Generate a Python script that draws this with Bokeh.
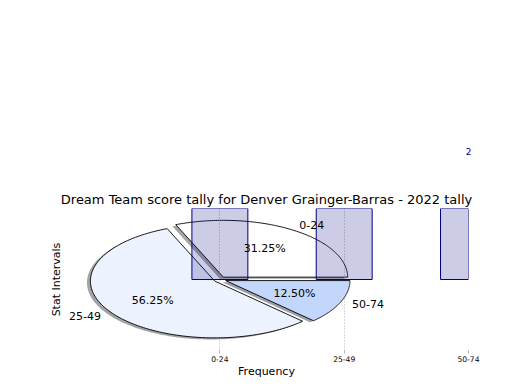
import numpy as np
from bokeh.plotting import figure
from bokeh.models import Range1d, FixedTicker, ColumnDataSource
from bokeh.core.properties import value
from bokeh.embed import file_html
from bokeh.resources import INLINE

# ---- data ----
title_text = "Dream Team score tally for Denver Grainger-Barras - 2022 tally"
categories = ["0-24", "25-49", "50-74"]
counts = [5, 9, 2]
slice_colors = ["#ffffff", "#ecf2fe", "#c3d6fc"]
explode = [0.05, 0.05, 0.05]
x_label = "Frequency"
y_label = "Stat Intervals"

FONT = "DejaVu Sans"
BORDER_TOP = 208
FRAME_H = 142
Y0, Y1 = -1.25, 1.25
LBL = "11px"

p = figure(frame_width=404, frame_height=FRAME_H,
           x_range=Range1d(-1.25, 2.0), y_range=Range1d(Y0, Y1),
           output_backend="svg", toolbar_location=None,
           min_border_left=64, min_border_right=36,
           min_border_top=BORDER_TOP, min_border_bottom=32)
p.outline_line_color = None
p.background_fill_color = "white"
p.border_fill_color = "white"

p.title.text = title_text
p.title.align = "center"
p.title.text_font = FONT
p.title.text_font_size = "13px"
p.title.text_font_style = "normal"
p.title.text_color = "black"
p.title.standoff = 4

# ---- pie geometry (from data) ----
fr = np.array(counts, dtype=float) / sum(counts)
theta = np.concatenate([[0.0], np.cumsum(fr)]) * 2 * np.pi
sh = -0.02 * 100 / 72
wx, wy, sx, sy = [], [], [], []
lab_x, lab_y, lab_align = [], [], []
pct_x, pct_y, pct_t = [], [], []
for i in range(len(counts)):
    t = np.linspace(theta[i], theta[i + 1], 120)
    mid = 0.5 * (theta[i] + theta[i + 1])
    cx, cy = explode[i] * np.cos(mid), explode[i] * np.sin(mid)
    xs = np.concatenate([[cx], cx + np.cos(t), [cx]])
    ys = np.concatenate([[cy], cy + np.sin(t), [cy]])
    wx.append(list(xs)); wy.append(list(ys))
    sx.append(list(xs + sh)); sy.append(list(ys + sh))
    lab_x.append(cx + 1.1 * np.cos(mid)); lab_y.append(cy + 1.1 * np.sin(mid))
    lab_align.append("left" if np.cos(mid) > 0 else "right")
    pct_x.append(cx + 0.6 * np.cos(mid)); pct_y.append(cy + 0.6 * np.sin(mid))
    pct_t.append("%.2f%%" % (100 * fr[i]))

shadow_cols = []
for c in slice_colors:
    r, g, b = int(c[1:3], 16), int(c[3:5], 16), int(c[5:7], 16)
    shadow_cols.append("#%02x%02x%02x" % (int(0.3 * r), int(0.3 * g), int(0.3 * b)))

p.patches(sx, sy, fill_color=shadow_cols, fill_alpha=0.5, line_color=None, level="image")
p.patches([wx[0]], [wy[0]], fill_color=slice_colors[0], line_color="black",
          line_width=0.9, level="image")
p.patches(wx[1:], wy[1:], fill_color=slice_colors[1:], line_color="black",
          line_width=0.9)

# ---- bars ----
xpos = list(range(len(categories)))
p.vbar(x=xpos, top=counts, bottom=0, width=0.45, fill_color="navy", fill_alpha=0.2,
       line_color="navy", line_width=1)

# ---- texts ----
src_lab = ColumnDataSource(dict(x=lab_x, y=lab_y, t=categories, a=lab_align))
p.text(x="x", y="y", text="t", text_align="a", text_baseline="middle", source=src_lab,
       text_font=value(FONT), text_font_size=LBL, text_color="black")
p.text(x=pct_x, y=pct_y, text=pct_t, text_align="center", text_baseline="middle",
       text_font=value(FONT), text_font_size=LBL, text_color="black")

# value labels: only those that land on the canvas (others are above the page)
canvas_top = Y1 + (BORDER_TOP - 14) * (Y1 - Y0) / FRAME_H
vis = [i for i, c in enumerate(counts) if c < canvas_top]
p.text(x=[xpos[i] for i in vis], y=[counts[i] for i in vis],
       text=[str(counts[i]) for i in vis], text_align="center",
       text_baseline="bottom", y_offset=-11, text_font=value(FONT),
       text_font_size="9px", text_color="navy", level="overlay")

# ---- axes ----
xa = p.xaxis[0]
xa.ticker = FixedTicker(ticks=xpos)
xa.major_label_overrides = {i: c for i, c in enumerate(categories)}
xa.axis_line_color = None
xa.major_tick_line_color = "#b0b0b0"
xa.major_tick_out = 3
xa.major_tick_in = 0
xa.minor_tick_line_color = None
xa.major_label_text_font = FONT
xa.major_label_text_font_size = "7.6px"
xa.major_label_text_color = "black"
xa.major_label_standoff = 2
xa.axis_label = x_label
xa.axis_label_text_font = FONT
xa.axis_label_text_font_size = LBL
xa.axis_label_text_font_style = "normal"
xa.axis_label_text_color = "black"
xa.axis_label_standoff = 0

ya = p.yaxis[0]
ya.ticker = FixedTicker(ticks=[])
ya.axis_line_color = None
ya.major_tick_line_color = None
ya.minor_tick_line_color = None
ya.major_tick_out = 0
ya.major_label_standoff = 0
ya.axis_label = y_label
ya.axis_label_text_font = FONT
ya.axis_label_text_font_size = LBL
ya.axis_label_text_font_style = "normal"
ya.axis_label_text_color = "black"
ya.axis_label_standoff = 2

p.xgrid.grid_line_color = "#b0b0b0"
p.xgrid.grid_line_dash = "1 2"
p.xgrid.grid_line_width = 1
p.xgrid.level = "underlay"
p.ygrid.visible = False

open("out.html", "w").write(file_html(p, INLINE))
